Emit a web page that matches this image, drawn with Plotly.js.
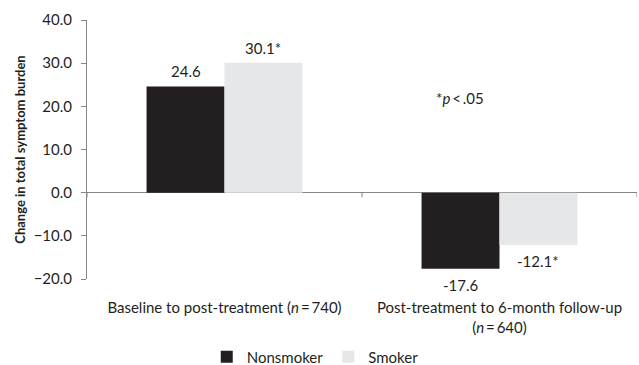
<!DOCTYPE html>
<html>
<head>
<meta charset="utf-8">
<script src="https://cdn.plot.ly/plotly-3.0.1.min.js"></script>
<style>html,body{margin:0;padding:0;background:#fff;}#chart{width:639px;height:365px;}</style>
</head>
<body>
<div id="chart"></div>
<script>
var categories = ["Baseline to post-treatment (<i>n</i>\u2009=\u2009740)", "Post-treatment to 6-month follow-up<br>(<i>n</i>\u2009=\u2009640)"];
var seriesNames = ["Nonsmoker", "Smoker"];
var nonsmoker = [24.6, -17.6];
var smoker = [30.1, -12.1];
var nonsmokerSig = [false, false];
var smokerSig = [true, true];
var yTicks = [-20, -10, 0, 10, 20, 30, 40];

var FONT = "Lato, 'Open Sans', sans-serif";
var FS = 15;
var TXT = "#231f20";
var AX = "#868686";

var catIdx = categories.map(function(c, i){ return i; });

var traces = [
  {type: "bar", name: seriesNames[0], x: catIdx, y: nonsmoker,
   marker: {color: "#231f20"}, hoverinfo: "none"},
  {type: "bar", name: seriesNames[1], x: catIdx, y: smoker,
   marker: {color: "#e6e7e8"}, hoverinfo: "none"}
];

var annotations = [];
function addLabels(vals, sig, offset) {
  vals.forEach(function(v, i){
    var pos = v >= 0;
    annotations.push({
      x: i + offset, y: v, xref: "x", yref: "y",
      text: v.toFixed(1) + (sig[i] ? "*" : ""),
      showarrow: false,
      yanchor: pos ? "bottom" : "top",
      yshift: pos ? 4 : -5,
      font: {family: FONT, size: FS, color: TXT}
    });
  });
}
var bargap = 0.433;
var half = (1 - bargap) / 4;
addLabels(nonsmoker, nonsmokerSig, -half);
addLabels(smoker, smokerSig, half);

annotations.push({
  x: 0.726, xref: "paper", y: 22, yref: "y",
  text: "*<i>p</i>\u2009<\u2009.05", showarrow: false,
  font: {family: FONT, size: FS, color: TXT}
});

var shapes = [-0.5, 0.5, 1.5].map(function(b){
  return {type: "line", xref: "x", yref: "y", x0: b, x1: b, y0: 0, y1: -1.1,
          line: {color: AX, width: 1}};
});

var layout = {
  width: 639, height: 365,
  margin: {l: 87, r: 2, t: 20, b: 86, autoexpand: false},
  paper_bgcolor: "#fff", plot_bgcolor: "#fff",
  font: {family: FONT, size: FS, color: TXT},
  barmode: "group", bargap: bargap, bargroupgap: 0,
  showlegend: true,
  legend: {orientation: "h", x: 0.415, xanchor: "center", y: -0.301, yanchor: "middle",
           font: {family: FONT, size: FS, color: TXT}, itemwidth: 30, traceorder: "normal"},
  xaxis: {type: "linear", range: [-0.5, 1.5], tickmode: "array", tickvals: catIdx, ticktext: categories,
          showgrid: false, zeroline: false, showline: false, ticks: "",
          ticklabelstandoff: 18, tickfont: {family: FONT, size: FS, color: TXT}},
  yaxis: {range: [-20, 40], tickmode: "array", tickvals: yTicks, tickformat: ".1f",
          showgrid: false, zeroline: true, zerolinecolor: AX, zerolinewidth: 1,
          showline: true, linecolor: AX, linewidth: 1, ticks: "outside", ticklen: 5, tickcolor: AX,
          ticklabelstandoff: 6,
          tickfont: {family: FONT, size: FS, color: TXT},
          title: {text: "<b>Change in total symptom burden</b>", standoff: 5,
                  font: {family: FONT, size: 13, color: TXT}}},
  annotations: annotations,
  shapes: shapes
};

Plotly.newPlot("chart", traces, layout, {displayModeBar: false, staticPlot: true});
</script>
</body>
</html>
